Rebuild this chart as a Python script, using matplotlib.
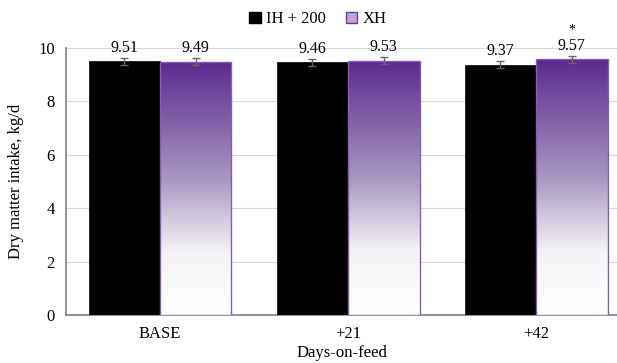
import numpy as np
import matplotlib
matplotlib.use('Agg')
import matplotlib.pyplot as plt
from matplotlib.colors import LinearSegmentedColormap
from matplotlib.patches import Patch

plt.rcParams['font.family'] = ['Liberation Serif', 'DejaVu Serif']

categories = ['BASE', '+21', '+42']
ih_vals = [9.51, 9.46, 9.37]
xh_vals = [9.49, 9.53, 9.57]
ih_err = [0.13, 0.13, 0.13]
xh_err = [0.13, 0.13, 0.13]
stars = ['', '', '*']

purple = '#5c2a8f'
edge = '#8a5cb0'
cmap = LinearSegmentedColormap.from_list('pw', [(0, '#ffffff'), (0.25, '#f4f2f6'),
                                                (0.55, '#a593bf'), (1, purple)])

fig = plt.figure(figsize=(6.17, 3.63), dpi=100)
ax = fig.add_axes([66 / 617, 48 / 363, 551 / 617, 267 / 363])

x = np.arange(len(categories))
w = 0.38
ax.bar(x - w / 2, ih_vals, w, color='black', edgecolor='black', linewidth=0.5, zorder=3)
xbars = ax.bar(x + w / 2, xh_vals, w, color='none', edgecolor=edge, linewidth=1.0, zorder=4)

grad = np.linspace(0, 1, 256).reshape(-1, 1)
for b in xbars:
    x0, y0 = b.get_x(), b.get_y()
    im = ax.imshow(grad, cmap=cmap, origin='lower', aspect='auto',
                   extent=[x0, x0 + b.get_width(), y0, y0 + b.get_height()], zorder=3)
    im.set_clip_path(b)

ax.errorbar(x - w / 2, ih_vals, yerr=ih_err, fmt='none', ecolor='#666666',
            elinewidth=1, capsize=3, capthick=1, zorder=5)
ax.errorbar(x + w / 2, xh_vals, yerr=xh_err, fmt='none', ecolor='#666666',
            elinewidth=1, capsize=3, capthick=1, zorder=5)

for i in range(len(categories)):
    ax.text(x[i] - w / 2, ih_vals[i] + 0.2, '%.2f' % ih_vals[i], ha='center', va='bottom', fontsize=11.5)
    ax.text(x[i] + w / 2, xh_vals[i] + 0.2, '%.2f' % xh_vals[i], ha='center', va='bottom', fontsize=11.5)
    if stars[i]:
        ax.text(x[i] + w / 2, xh_vals[i] + 0.85, stars[i], ha='center', va='bottom', fontsize=10)

ax.set_xlim(-0.5, 2.43)
ax.set_ylim(0, 10)
ax.set_yticks([0, 2, 4, 6, 8, 10])
ax.set_xticks(x)
ax.set_xticklabels(categories)
ax.tick_params(axis='both', length=0, labelsize=12, pad=8)
ax.grid(axis='y', color='#d9d9d9', linewidth=0.8, zorder=0)
for s in ['top', 'right']:
    ax.spines[s].set_visible(False)
for s in ['left', 'bottom']:
    ax.spines[s].set_color('#808080')
    ax.spines[s].set_linewidth(1.2)

ax.set_ylabel('Dry matter intake, kg/d', fontsize=12, labelpad=10)
ax.set_xlabel('Days-on-feed', fontsize=12, labelpad=2)

handles = [Patch(facecolor='black', edgecolor='black', label='IH + 200'),
           Patch(facecolor='#b9a6d3', edgecolor='#6a3aa0', label='XH')]
fig.legend(handles=handles, loc='upper center', bbox_to_anchor=(0.515, 1.01), ncol=2,
           frameon=False, fontsize=12, handlelength=0.7, handleheight=0.7,
           handletextpad=0.3, columnspacing=1.2)

fig.savefig('out.png', dpi=100)
